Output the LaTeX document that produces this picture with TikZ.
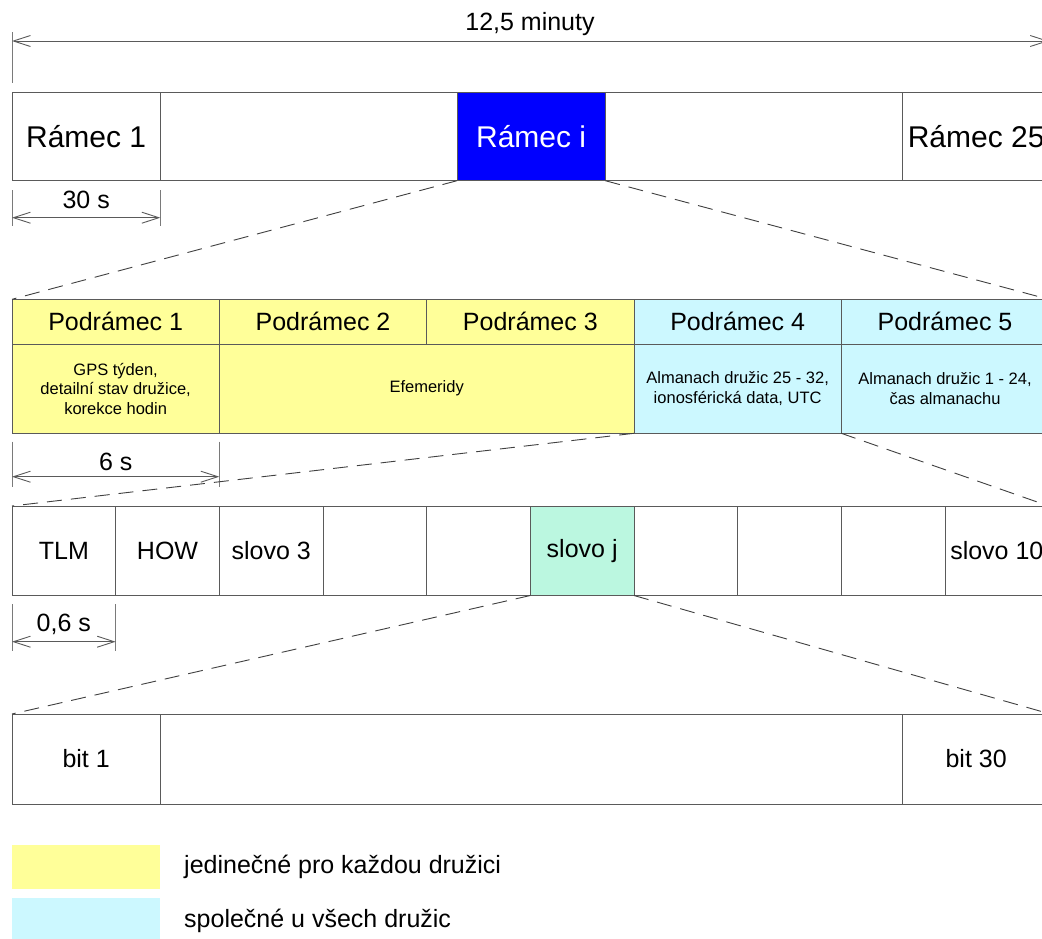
\documentclass[tikz,border=0pt]{standalone}
\usepackage{fontspec}
\setmainfont{Liberation Sans}
\usetikzlibrary{arrows.meta}
\definecolor{linegray}{HTML}{5A5A5A}
\definecolor{tickgray}{HTML}{7A7A7A}
\definecolor{dashgray}{HTML}{404040}
\definecolor{yel}{HTML}{FFFF99}
\definecolor{cya}{HTML}{CCF8FF}
\definecolor{mint}{HTML}{BBF7E0}
\definecolor{frameblue}{HTML}{0000FF}
\newcommand{\bigf}{\fontsize{30}{36}\selectfont}
\newcommand{\medf}{\fontsize{25}{30}\selectfont}
\newcommand{\smf}{\fontsize{16.5}{19.5}\selectfont}
\begin{document}
\begin{tikzpicture}[x=1pt,y=-1pt,
  cell/.style={draw=linegray, line width=0.9pt, inner sep=0pt, outer sep=0pt, anchor=north west, align=center},
  row1/.style={cell, minimum height=88.2pt, font=\bigf},
  row2t/.style={cell, minimum height=44.7pt, font=\medf},
  row2b/.style={cell, minimum height=89.3pt, font=\smf},
  row3/.style={cell, minimum height=89.5pt, minimum width=103.67pt, font=\medf},
  row4/.style={cell, minimum height=90pt, font=\medf},
  dimline/.style={draw=linegray, line width=0.9pt, {Straight Barb[length=17pt,width=11pt]}-{Straight Barb[length=17pt,width=11pt]}},
  tick/.style={draw=tickgray, line width=0.9pt},
  zoomline/.style={draw=dashgray, line width=0.9pt, dash pattern=on 15pt off 9pt},
  dimlabel/.style={font=\medf, inner sep=0pt},
  legendbox/.style={inner sep=0pt, outer sep=0pt, anchor=north west, minimum width=148.3pt},
  legendtext/.style={font=\medf, anchor=west, inner sep=0pt}
]
\useasboundingbox (0,0) rectangle (1042,938);
\clip (0,0) rectangle (1042,938);
\fill[white] (0,0) rectangle (1042,938);

% ---- top dimension
\coordinate (tA) at (12,32);
\coordinate (tB) at (12,83);
\coordinate (aL) at (12,41);
\coordinate (aR) at (1048.7,41);
\draw[tick] (tA) -- (tB);
\draw[dimline] (aL) -- (aR);
\node[dimlabel] (ttop) at (530,24) {12,5 minuty};

% ---- row 1 : frames
\node[row1, minimum width=148.3pt] (r1) at (12,92.5) {Rámec 1};
\node[row1, minimum width=296.7pt] (r2) at (160.3,92.5) {};
\node[row1, minimum width=148.3pt, fill=frameblue, text=white] (ri) at (457,92.5) {Rámec i};
\node[row1, minimum width=296.7pt] (r3) at (605.3,92.5) {};
\node[row1, minimum width=148.3pt] (r25) at (902,92.5) {Rámec 25};

% 30 s dimension
\coordinate (s30a) at (12,190);
\coordinate (s30b) at (12,226);
\coordinate (s30c) at (160.3,190);
\coordinate (s30d) at (160.3,226);
\coordinate (s30l) at (12,217.7);
\coordinate (s30r) at (160.3,217.7);
\draw[tick] (s30a) -- (s30b);
\draw[tick] (s30c) -- (s30d);
\draw[dimline] (s30l) -- (s30r);
\node[dimlabel] (t30) at (86.2,200) {30 s};

% ---- row 2 : subframes
\node[row2t, minimum width=207.3pt, fill=yel] (p1) at (12,299.3) {Podrámec 1};
\node[row2t, minimum width=207.4pt, fill=yel] (p2) at (219.3,299.3) {Podrámec 2};
\node[row2t, minimum width=207.3pt, fill=yel] (p3) at (426.7,299.3) {Podrámec 3};
\node[row2t, minimum width=207.3pt, fill=cya] (p4) at (634,299.3) {Podrámec 4};
\node[row2t, minimum width=207.4pt, fill=cya] (p5) at (841.3,299.3) {Podrámec 5};
\node[row2b, minimum width=207.3pt, fill=yel] (d1) at (12,344) {GPS týden,\\detailní stav družice,\\korekce hodin};
\node[row2b, minimum width=414.7pt, fill=yel] (d2) at (219.3,344) {Efemeridy};
\node[row2b, minimum width=207.3pt, fill=cya] (d4) at (634,344) {Almanach družic 25 - 32,\\ionosférická data, UTC};
\node[row2b, minimum width=207.4pt, fill=cya] (d5) at (841.3,344) {Almanach družic 1 - 24,\\čas almanachu};

% 6 s dimension
\coordinate (s6a) at (12,441.7);
\coordinate (s6b) at (12,486.7);
\coordinate (s6c) at (219.3,441.7);
\coordinate (s6d) at (219.3,486.7);
\coordinate (s6l) at (12,476.7);
\coordinate (s6r) at (219.3,476.7);
\draw[tick] (s6a) -- (s6b);
\draw[tick] (s6c) -- (s6d);
\draw[dimline] (s6l) -- (s6r);
\node[dimlabel] (t6) at (115.7,462) {6 s};

% ---- row 3 : words
\node[row3] (w1) at (12,506) {TLM};
\node[row3] (w2) at (115.67,506) {HOW};
\node[row3] (w3) at (219.33,506) {slovo 3};
\node[row3] (w4) at (323,506) {};
\node[row3] (w5) at (426.67,506) {};
\node[row3, fill=mint] (wj) at (530.33,506) {slovo j};
\node[row3] (w7) at (634,506) {};
\node[row3] (w8) at (737.67,506) {};
\node[row3] (w9) at (841.33,506) {};
\node[row3] (w10) at (945,506) {slovo 10};

% 0,6 s dimension
\coordinate (s06a) at (12,604);
\coordinate (s06b) at (12,650.7);
\coordinate (s06c) at (115.67,604);
\coordinate (s06d) at (115.67,650.7);
\coordinate (s06l) at (12,641.7);
\coordinate (s06r) at (115.67,641.7);
\draw[tick] (s06a) -- (s06b);
\draw[tick] (s06c) -- (s06d);
\draw[dimline] (s06l) -- (s06r);
\node[dimlabel] (t06) at (63.8,624.7) {0,6 s};

% ---- row 4 : bits
\node[row4, minimum width=148.3pt] (b1) at (12,714) {bit 1};
\node[row4, minimum width=741.7pt] (bm) at (160.3,714) {};
\node[row4, minimum width=148.3pt] (b30) at (902,714) {bit 30};

% ---- zoom lines
\draw[zoomline] (ri.south west) -- (p1.north west);
\draw[zoomline] (ri.south east) -- (p5.north east);
\draw[zoomline] (d4.south west) -- (w1.north west);
\draw[zoomline] (d4.south east) -- (w10.north east);
\draw[zoomline] (wj.south west) -- (b1.north west);
\draw[zoomline] (wj.south east) -- (b30.north east);

% ---- legend
\node[legendbox, fill=yel, minimum height=44.5pt] (ly) at (12,844.5) {};
\node[legendbox, fill=cya, minimum height=46pt] (lc) at (12,898) {};
\node[legendtext] (lyt) at (184,867) {jedinečné pro každou družici};
\node[legendtext] (lct) at (184,921) {společné u všech družic};
\end{tikzpicture}
\end{document}
